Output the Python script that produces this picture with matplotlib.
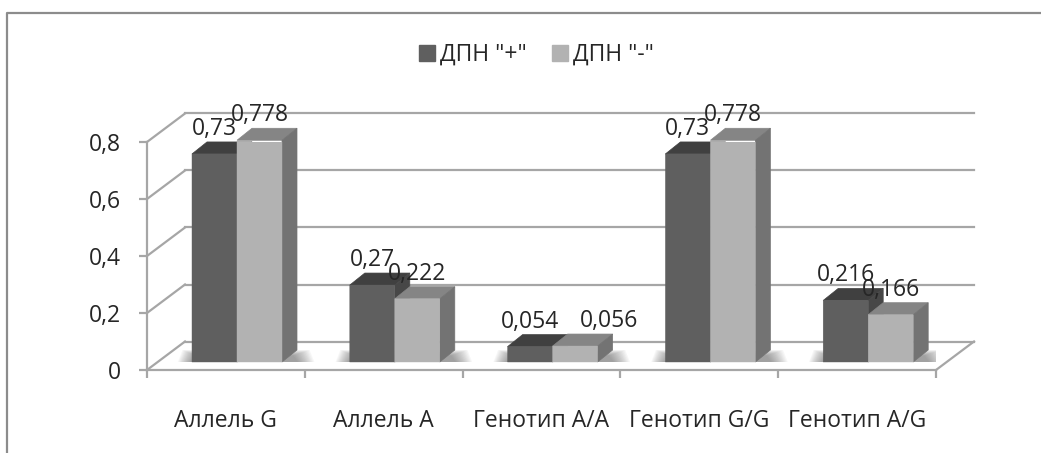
#!/usr/bin/env python3
import numpy as np
import matplotlib
matplotlib.use("Agg")
import matplotlib.pyplot as plt
from matplotlib.patches import Polygon

categories = ["Аллель G", "Аллель A", "Генотип A/A", "Генотип G/G", "Генотип A/G"]
series_names = ['ДПН "+"', 'ДПН "-"']
dpn_plus = [0.73, 0.27, 0.054, 0.73, 0.216]
dpn_minus = [0.778, 0.222, 0.056, 0.778, 0.166]
plus_labels = ["0,73", "0,27", "0,054", "0,73", "0,216"]
minus_labels = ["0,778", "0,222", "0,056", "0,778", "0,166"]
y_ticks = [0, 0.2, 0.4, 0.6, 0.8]
y_tick_labels = ["0", "0,2", "0,4", "0,6", "0,8"]

W, H = 1041, 453
plt.rcParams["font.family"] = ["Open Sans", "DejaVu Sans"]

GRID = "#a6a6a6"
TEXT = "#262626"

fig = plt.figure(figsize=(W / 100, H / 100), dpi=100, facecolor="white")

# outer chart frame, open on the right and at the bottom
frame = fig.add_axes([0, 0, 1, 1], zorder=0)
frame.set_xlim(0, W)
frame.set_ylim(H, 0)
frame.axis("off")
frame.plot([7, 7, W], [H, 13, 13], color="#8c8c8c", lw=1.6)

# axes box is the front plane of the 3D chart
x0, x1, y0, y1 = 147, 936, 370, 142
ax = fig.add_axes([x0 / W, 1 - y0 / H, (x1 - x0) / W, (y0 - y1) / H], zorder=1)
ax.patch.set_alpha(0)
ax.set_xlim(0, 5)
ax.set_ylim(0, 0.8)
for s in ["top", "right"]:
    ax.spines[s].set_visible(False)
for s in ["left", "bottom"]:
    ax.spines[s].set_color(GRID)
    ax.spines[s].set_linewidth(1.6)

ax.set_yticks(y_ticks, y_tick_labels)
ax.tick_params(axis="y", color=GRID, width=1.6, length=6, labelsize=16.5,
               labelcolor=TEXT, pad=13)
ax.set_xticks(range(6), [""] * 6)
ax.set_xticks(np.arange(5) + 0.5, categories, minor=True)
ax.tick_params(axis="x", which="major", color=GRID, width=1.6, length=6)
ax.tick_params(axis="x", which="minor", length=0, labelsize=16.5,
               labelcolor=TEXT, pad=28)

# depth of the chart and of the bars, in data units
wall_dx = 38 / 157.8
wall_dy = 0.1
bar_dx = 15 / 157.8
bar_dy = 12 / 285
bar_w = 45 / 157.8
bar_x = 45 / 157.8
bar_base = 8 / 285
label_gap = 25 / 285

# back wall gridlines, side wall and floor
for v in y_ticks:
    ax.plot([wall_dx, 5 + wall_dx], [v + wall_dy] * 2, color=GRID, lw=1.6,
            clip_on=False, zorder=1)
    ax.plot([0, wall_dx], [v, v + wall_dy], color=GRID, lw=1.6,
            clip_on=False, zorder=1)
ax.plot([5, 5 + wall_dx], [0, wall_dy], color=GRID, lw=1.6, clip_on=False, zorder=1)


def draw_shadow(left):
    # stacked trapezoids on the floor, fading outwards from the bar pair
    right = left + 2 * bar_w + bar_dx
    layers = 14
    for k in range(layers):
        t = 1 - k / layers
        xl = left - 0.09 * t
        xr = right + 0.11 * t
        top = bar_base + bar_dy * (0.5 + 0.5 * t)
        ax.add_patch(Polygon([(xl, bar_base), (xr, bar_base), (xr - 0.03, top), (xl + 0.03, top)],
                             color="#303030", alpha=0.04, lw=0, zorder=2))


def draw_bar(x, v, front, top, side, z):
    h = bar_base + v
    ax.add_patch(Polygon([(x, h), (x + bar_dx, h + bar_dy),
                          (x + bar_w + bar_dx, h + bar_dy), (x + bar_w, h)],
                         facecolor=top, edgecolor=top, lw=0.5, zorder=z, clip_on=False))
    ax.add_patch(Polygon([(x + bar_w, bar_base), (x + bar_w + bar_dx, bar_base + bar_dy),
                          (x + bar_w + bar_dx, h + bar_dy), (x + bar_w, h)],
                         facecolor=side, edgecolor=side, lw=0.5, zorder=z, clip_on=False))
    bars = ax.bar(x, v, bar_w, bottom=bar_base, align="edge", color=front,
                  edgecolor=front, lw=0.3, zorder=z)
    for b in bars:
        b.set_snap(False)


for i in range(5):
    left = i + bar_x
    draw_shadow(left)
    draw_bar(left, dpn_plus[i], "#5f5f5f", "#404040", "#474747", 3)
    draw_bar(left + bar_w, dpn_minus[i], "#b2b2b2", "#858585", "#737373", 4)
    ax.text(left + bar_w / 2, bar_base + dpn_plus[i] + label_gap, plus_labels[i],
            ha="center", va="center", fontsize=16.5, color=TEXT, zorder=6, clip_on=False)
    # the short third group has its second label pushed clear of the first
    shift = bar_w * 0.75 if i == 2 else 0
    ax.text(left + bar_w * 1.5 + shift, bar_base + dpn_minus[i] + label_gap, minus_labels[i],
            ha="center", va="center", fontsize=16.5, color=TEXT, zorder=6, clip_on=False)

# legend
handles = [plt.Rectangle((0, 0), 1, 1, color=c) for c in ("#5f5f5f", "#b2b2b2")]
fig.legend(handles, series_names, loc="center", bbox_to_anchor=(536 / W, 1 - 55 / H),
           ncol=2, frameon=False, fontsize=16.5, labelcolor=TEXT, handlelength=0.7,
           handleheight=0.7, handletextpad=0.22, columnspacing=1.1)

fig.savefig("out.png", dpi=100)
